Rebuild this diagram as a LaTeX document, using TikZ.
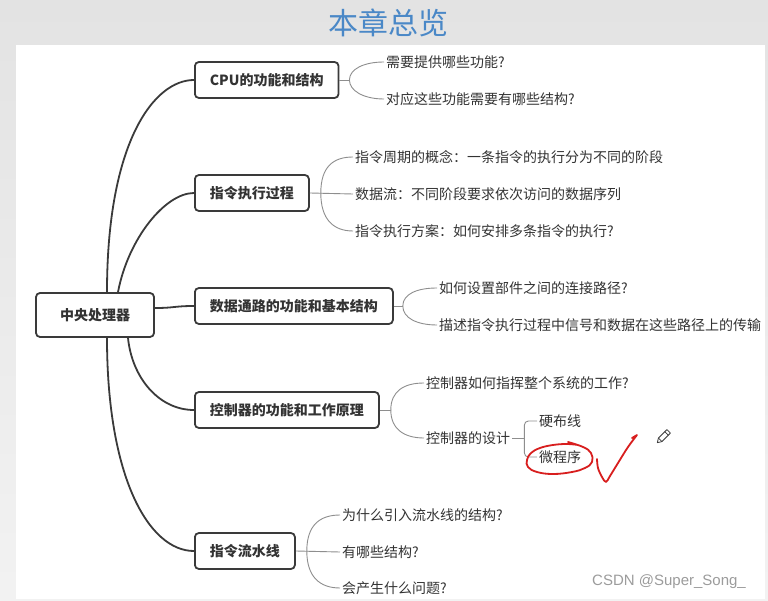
\documentclass[tikz,border=0pt]{standalone}
\usepackage{fontspec}
\setmainfont{Noto Sans CJK SC}
\newfontfamily\wmfont{Liberation Sans}
\usepackage{xcolor}
\usetikzlibrary{positioning}

\definecolor{boxline}{HTML}{3A3A3A}
\definecolor{twiggray}{HTML}{8E8E8E}
\definecolor{txt}{HTML}{333333}
\definecolor{titleblue}{HTML}{4A88C7}
\definecolor{penred}{HTML}{D81E1E}
\definecolor{wmgray}{HTML}{9C9C9C}

\begin{document}
\begin{tikzpicture}[
  x=1pt, y=-1pt,
  every node/.style={font=\fontsize{14pt}{16pt}\selectfont, text=txt},
  box/.style={draw=boxline, line width=1.8pt, rounded corners=4pt, fill=white, minimum height=36pt, inner xsep=15pt, anchor=west, font=\fontsize{14pt}{16pt}\selectfont\bfseries},
  rootbox/.style={box, anchor=center, minimum width=118pt, minimum height=44pt, inner xsep=0pt},
  leaf/.style={inner xsep=2pt, inner ysep=1pt, anchor=west},
  trunk/.style={draw=boxline, line width=1.8pt},
  twig/.style={draw=twiggray, line width=0.9pt},
  ink/.style={draw=penred, line width=1.8pt, line cap=round, line join=round}
]
\useasboundingbox (0,0) rectangle (768,601);
\shade[top color=black!11, bottom color=black!5] (0,0) rectangle (768,601);
\fill[white] (16,45) rectangle (765,599);

\node[font=\fontsize{30pt}{34pt}\selectfont, text=titleblue] (title) at (388,23) {本章总览};

% main branches
\node[rootbox] (root) at (95,315) {中央处理器};
\node[box] (cpu) at (194,80) {CPU的功能和结构};
\node[box] (exec) at (194,193) {指令执行过程};
\node[box] (dpath) at (194,306) {数据通路的功能和基本结构};
\node[box] (ctrl) at (194,410) {控制器的功能和工作原理};
\node[box] (pipe) at (194,551) {指令流水线};

\draw[trunk] ([xshift=12pt]root.north) .. controls +(0,-150) and +(-40,0) .. (cpu.west);
\draw[trunk] ([xshift=23pt]root.north) .. controls +(10,-53) and +(-29,0) .. (exec.west);
\draw[trunk] ([yshift=7pt]root.east) .. controls +(20,0) and +(-20,0) .. (dpath.west);
\draw[trunk] ([xshift=33pt]root.south) .. controls +(4,40) and +(-35,0) .. (ctrl.west);
\draw[trunk] ([xshift=12pt]root.south) .. controls +(0,140) and +(-45,0) .. (pipe.west);

% leaves
\node[leaf] (cpuA) at (384,62) {需要提供哪些功能?};
\node[leaf] (cpuB) at (384,99) {对应这些功能需要有哪些结构?};
\node[leaf] (exA) at (353,157) {指令周期的概念：一条指令的执行分为不同的阶段};
\node[leaf] (exB) at (353,194) {数据流：不同阶段要求依次访问的数据序列};
\node[leaf] (exC) at (353,231) {指令执行方案：如何安排多条指令的执行?};
\node[leaf] (dpA) at (437,288) {如何设置部件之间的连接路径?};
\node[leaf] (dpB) at (437,325) {描述指令执行过程中信号和数据在这些路径上的传输};
\node[leaf] (ctA) at (424,383) {控制器如何指挥整个系统的工作?};
\node[leaf] (ctB) at (424,438) {控制器的设计};
\node[leaf] (hard) at (537,421) {硬布线};
\node[leaf] (micro) at (537,457) {微程序};
\node[leaf] (ppA) at (340,515) {为什么引入流水线的结构?};
\node[leaf] (ppB) at (340,552) {有哪些结构?};
\node[leaf] (ppC) at (340,588) {会产生什么问题?};

\coordinate[right=10pt of cpu.east] (cpuj);
\coordinate[right=11pt of exec.east] (exj);
\coordinate[right=9pt of dpath.east] (dpj);
\coordinate[right=11pt of ctrl.east] (ctj);
\coordinate[right=12pt of ctB.east] (ctBj);
\coordinate[right=11pt of pipe.east] (ppj);

\draw[twig] (cpu.east) -- (cpuj);
\draw[twig] (cpuj) .. controls +(0,-11) and +(-20,0) .. (cpuA.west);
\draw[twig] (cpuj) .. controls +(0,11) and +(-20,0) .. (cpuB.west);

\draw[twig] (exec.east) -- (exB.west);
\draw[twig] (exj) .. controls +(0,-26) and +(-20,0) .. (exA.west);
\draw[twig] (exj) .. controls +(0,26) and +(-20,0) .. (exC.west);

\draw[twig] (dpath.east) -- (dpj);
\draw[twig] (dpj) .. controls +(0,-12) and +(-20,0) .. (dpA.west);
\draw[twig] (dpj) .. controls +(0,12) and +(-20,0) .. (dpB.west);

\draw[twig] (ctrl.east) -- (ctj);
\draw[twig] (ctj) .. controls +(0,-19) and +(-20,0) .. (ctA.west);
\draw[twig] (ctj) .. controls +(0,19) and +(-20,0) .. (ctB.west);

\draw[twig] (ctB.east) -- (ctBj);
\draw[twig, rounded corners=4pt] (ctBj) |- (hard.west);
\draw[twig, rounded corners=4pt] (ctBj) |- (micro.west);

\draw[twig] (pipe.east) -- (ppB.west);
\draw[twig] (ppj) .. controls +(0,-26) and +(-20,0) .. (ppA.west);
\draw[twig] (ppj) .. controls +(0,26) and +(-20,0) .. (ppC.west);

% hand marks
\draw[ink] plot[smooth, tension=0.7] coordinates {(568,442) (583,447) (591,453) (592,462) (585,468) (572,472) (553,474) (537,472) (528,467) (527,460) (531,453) (540,448) (553,445) (567,444) (578,445)};
\draw[ink] plot[smooth, tension=0.6] coordinates {(597,459) (598,468) (602,477) (606,482) (610,476) (618,463) (628,447) (637,435)} -- (632,438);

\begin{scope}[shift={(663,437)}, rotate=45, x=1pt, y=1pt, line width=0.8pt]
  \draw[boxline, line join=round] (-8,0) -- (-4,-2.5) -- (8,-2.5) -- (8,2.5) -- (-4,2.5) -- cycle;
  \draw[boxline] (-4,-2.5) -- (-4,2.5) (5,-2.5) -- (5,2.5);
\end{scope}

\node[anchor=west, inner sep=0pt, font=\wmfont\fontsize{15pt}{17pt}\selectfont, text=wmgray] (mark) at (592,582) {CSDN @Super\_Song\_};
\end{tikzpicture}
\end{document}
